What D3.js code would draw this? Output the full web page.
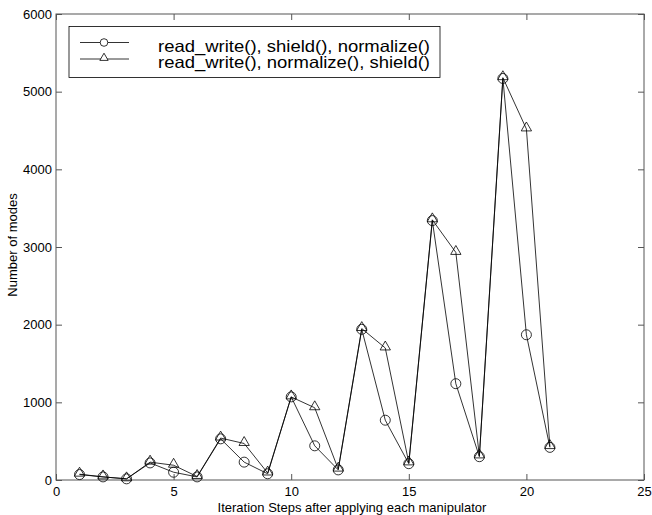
<!DOCTYPE html>
<html><head><meta charset="utf-8">
<script src="https://cdn.jsdelivr.net/npm/d3@7"></script>
<style>body{margin:0;background:#fff}svg{display:block}text{font-family:"Liberation Sans",Arial,sans-serif;fill:#000}</style>
</head><body><svg id="c" width="652" height="515"></svg>
<script>
const steps = [1,2,3,4,5,6,7,8,9,10,11,12,13,14,15,16,17,18,19,20,21];
const seriesShieldFirst = [70,40,15,220,100,40,530,230,80,1070,440,130,1940,770,210,3340,1240,300,5170,1870,420];
const seriesNormalizeFirst = [75,40,15,230,190,45,540,470,90,1070,930,140,1950,1700,220,3350,2930,310,5180,4520,430];
const seriesNames = ["read_write(), shield(), normalize()","read_write(), normalize(), shield()"];
const xTicks = [0,5,10,15,20,25];
const yTicks = [0,1000,2000,3000,4000,5000,6000];
const xLabel = "Iteration Steps after applying each manipulator";
const yLabel = "Number of modes";

const svg = d3.select("#c");
const L=56,R=644,T=14,B=480;
const x = d3.scaleLinear().domain([0,25]).range([L,R]);
const y = d3.scaleLinear().domain([0,6000]).range([B,T]);
const axisColor="#555";

const g = svg.append("g");
g.append("rect").attr("x",L).attr("y",T).attr("width",R-L).attr("height",B-T)
 .attr("fill","none").attr("stroke",axisColor).attr("stroke-width",1);

const ax = (sel)=>{sel.select(".domain").remove();sel.selectAll("line").attr("stroke",axisColor);sel.selectAll("text").attr("font-size",13).attr("font-family","Liberation Sans, Arial, sans-serif");};
g.append("g").attr("transform",`translate(0,${B})`).call(d3.axisBottom(x).tickValues(xTicks).tickSizeInner(-6).tickSizeOuter(0).tickPadding(7).tickFormat(d3.format("d"))).call(ax);
g.append("g").attr("transform",`translate(0,${T})`).call(d3.axisTop(x).tickValues(xTicks).tickSizeInner(-6).tickSizeOuter(0).tickFormat("")).call(ax);
g.append("g").attr("transform",`translate(${L},0)`).call(d3.axisLeft(y).tickValues(yTicks).tickSizeInner(-6).tickSizeOuter(0).tickPadding(4).tickFormat(d3.format("d"))).call(ax);
g.append("g").attr("transform",`translate(${R},0)`).call(d3.axisRight(y).tickValues(yTicks).tickSizeInner(-6).tickSizeOuter(0).tickFormat("")).call(ax);
g.append("text").attr("x",352).attr("y",512).attr("text-anchor","middle").attr("font-size",13).text(xLabel);
g.append("text").attr("transform",`translate(17,245) rotate(-90)`).attr("text-anchor","middle").attr("font-size",13).text(yLabel);

const line = d3.line().x((d,i)=>x(steps[i])).y(d=>y(d));
const tri = d3.symbol().type(d3.symbolTriangle).size(46);
function drawSeries(vals, marker){
  g.append("path").datum(vals).attr("d",line).attr("fill","none").attr("stroke","#000").attr("stroke-width",0.8);
  const m = g.append("g").selectAll("g").data(vals).join("g")
    .attr("transform",(d,i)=>`translate(${x(steps[i])},${y(d)})`);
  if(marker==="circle") m.append("circle").attr("r",5).attr("fill","none").attr("stroke","#000").attr("stroke-width",0.8);
  else m.append("path").attr("d",tri).attr("transform","translate(0,-1)").attr("fill","none").attr("stroke","#000").attr("stroke-width",0.8);
}
drawSeries(seriesShieldFirst,"circle");
drawSeries(seriesNormalizeFirst,"triangle");

const lg = g.append("g");
lg.append("rect").attr("x",69).attr("y",26.5).attr("width",371).attr("height",51).attr("fill","#fff").attr("stroke","#000").attr("stroke-width",0.8);
const tri2 = d3.symbol().type(d3.symbolTriangle).size(30);
seriesNames.forEach((n,i)=>{
  const yy = 42.5+i*16.5;
  lg.append("line").attr("x1",80).attr("x2",129).attr("y1",yy).attr("y2",yy).attr("stroke","#000").attr("stroke-width",0.8);
  if(i===0) lg.append("circle").attr("cx",104).attr("cy",yy).attr("r",3.8).attr("fill","#fff").attr("stroke","#000").attr("stroke-width",0.8);
  else lg.append("path").attr("d",tri2).attr("transform",`translate(104,${yy-1})`).attr("fill","#fff").attr("stroke","#000").attr("stroke-width",0.8);
  lg.append("text").attr("x",158).attr("y",yy+9.2).attr("font-size",16.5)
    .attr("textLength",272).attr("lengthAdjust","spacingAndGlyphs").text(n);
});
</script></body></html>
